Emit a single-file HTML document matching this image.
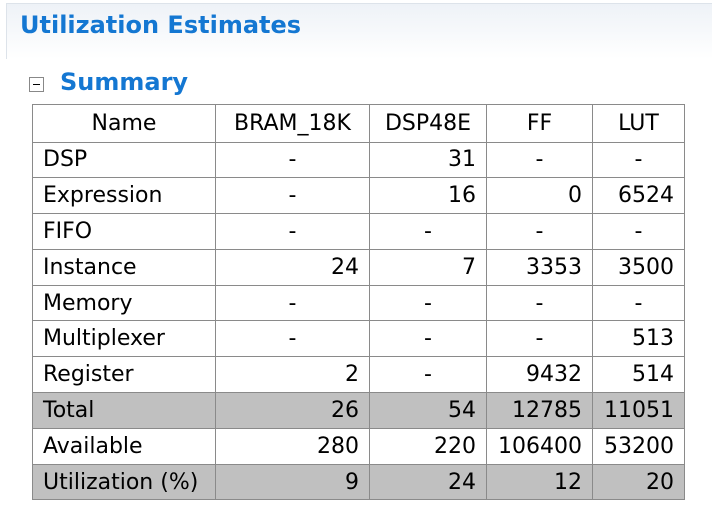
<!DOCTYPE html>
<html><head><style>
body{margin:0;width:712px;height:509px;background:#fff;font-family:"DejaVu Sans","Liberation Sans",sans-serif;position:relative;overflow:hidden}
.hdr{position:absolute;left:6px;top:3px;width:720px;height:55px;border-left:1px solid #dde3ea;border-top:1px solid #dde3ea;background:linear-gradient(#eef2f7,#fff)}
.t{position:absolute;left:20px;top:11px;font-size:24px;font-weight:bold;color:#1477d2}
.s{position:absolute;left:60px;top:68px;font-size:24px;font-weight:bold;color:#1477d2}
.box{position:absolute;left:29px;top:77px;width:15px;height:15px;border:1px solid #888;box-sizing:border-box}
.box:after{content:"";position:absolute;left:3px;top:6px;width:7px;height:1px;background:#000}
table{position:absolute;left:32px;top:104px;border-collapse:collapse;font-size:22px;color:#000}
td{border:1.5px solid #8a8a8a;padding:0 10px;height:34.8px;text-align:right;white-space:nowrap}
td:first-child{text-align:left}
td.d{text-align:center}
tr.h td{text-align:center;height:36.5px}
tr.g td{background:#c0c0c0}
</style></head><body>
<div class="hdr"></div>
<div class="t">Utilization Estimates</div>
<div class="box"></div>
<div class="s">Summary</div>
<table>
<colgroup><col style="width:183px"><col style="width:154px"><col style="width:117px"><col style="width:106px"><col style="width:92px"></colgroup>
<tr class="h"><td style="text-align:center">Name</td><td>BRAM_18K</td><td>DSP48E</td><td>FF</td><td>LUT</td></tr>
<tr><td>DSP</td><td class="d">-</td><td>31</td><td class="d">-</td><td class="d">-</td></tr>
<tr><td>Expression</td><td class="d">-</td><td>16</td><td>0</td><td>6524</td></tr>
<tr><td>FIFO</td><td class="d">-</td><td class="d">-</td><td class="d">-</td><td class="d">-</td></tr>
<tr><td>Instance</td><td>24</td><td>7</td><td>3353</td><td>3500</td></tr>
<tr><td>Memory</td><td class="d">-</td><td class="d">-</td><td class="d">-</td><td class="d">-</td></tr>
<tr><td>Multiplexer</td><td class="d">-</td><td class="d">-</td><td class="d">-</td><td>513</td></tr>
<tr><td>Register</td><td>2</td><td class="d">-</td><td>9432</td><td>514</td></tr>
<tr class="g"><td>Total</td><td>26</td><td>54</td><td>12785</td><td>11051</td></tr>
<tr><td>Available</td><td>280</td><td>220</td><td>106400</td><td>53200</td></tr>
<tr class="g"><td>Utilization (%)</td><td>9</td><td>24</td><td>12</td><td>20</td></tr>
</table>
</body></html>
